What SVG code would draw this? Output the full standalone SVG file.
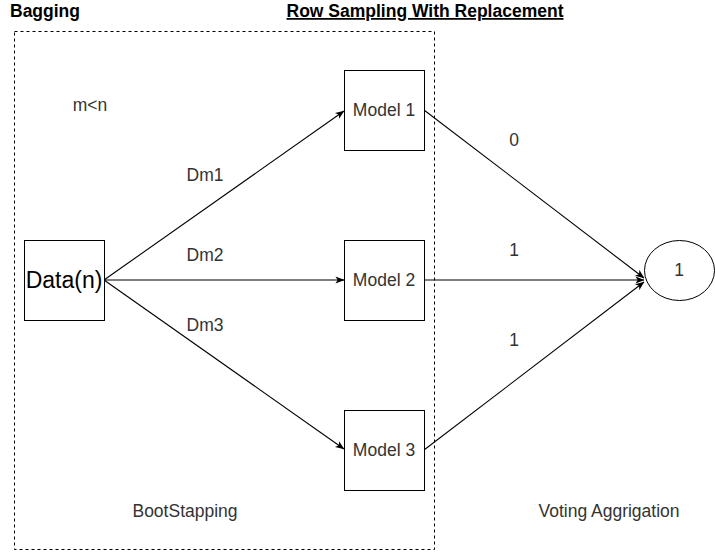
<svg xmlns="http://www.w3.org/2000/svg" width="715" height="552" viewBox="0 0 715 552">
<defs>
<marker id="arr" viewBox="0 0 10 10" refX="9.5" refY="5" markerWidth="9" markerHeight="9" markerUnits="userSpaceOnUse" orient="auto">
<path d="M0,1 L10,5 L0,9 L2.5,5 Z" fill="#000"/>
</marker>
<style>
.t{font-family:"Liberation Sans",Arial,sans-serif;font-size:17.5px;fill:#333;text-anchor:middle;dominant-baseline:central}
.b{font-family:"Liberation Sans",Arial,sans-serif;font-size:17.5px;font-weight:bold;fill:#000}
.box{fill:#fff;stroke:#000;stroke-width:1}
.e{stroke:#000;stroke-width:1.1;fill:none;marker-end:url(#arr)}
</style>
</defs>
<rect width="715" height="552" fill="#fff"/>
<text class="b" x="10" y="17">Bagging</text>
<text class="b" x="425" y="17" text-anchor="middle" text-decoration="underline">Row Sampling With Replacement</text>
<g id="bootstrap">
<rect x="14.5" y="31.5" width="420" height="518" fill="none" stroke="#000" stroke-dasharray="3,3"/>
</g>
<g id="connectors">
<line class="e" x1="104" y1="280" x2="344" y2="111"/>
<line class="e" x1="104" y1="280" x2="344" y2="280"/>
<line class="e" x1="104" y1="280" x2="344" y2="449"/>
<line class="e" x1="424" y1="110" x2="644" y2="278"/>
<line class="e" x1="424" y1="280" x2="644" y2="280"/>
<line class="e" x1="424" y1="450" x2="644" y2="282"/>
</g>
<g id="data"><rect class="box" x="24.5" y="240.5" width="80" height="80"/><text class="t" x="64" y="280" style="font-size:23px;fill:#000">Data(n)</text></g>
<g id="model1"><rect class="box" x="344.5" y="70.5" width="80" height="80"/><text class="t" x="384" y="110">Model 1</text></g>
<g id="model2"><rect class="box" x="344.5" y="240.5" width="80" height="80"/><text class="t" x="384" y="280">Model 2</text></g>
<g id="model3"><rect class="box" x="344.5" y="410.5" width="80" height="80"/><text class="t" x="384" y="450">Model 3</text></g>
<g id="result"><ellipse cx="679.5" cy="270.5" rx="35" ry="30" fill="#fff" stroke="#000"/><text class="t" x="679" y="270">1</text></g>
<text class="t" x="90" y="105">m&lt;n</text>
<text class="t" x="205" y="175">Dm1</text>
<text class="t" x="205" y="255">Dm2</text>
<text class="t" x="205" y="325">Dm3</text>
<text class="t" x="514" y="140">0</text>
<text class="t" x="514" y="250">1</text>
<text class="t" x="514" y="340">1</text>
<text class="t" x="185" y="511">BootStapping</text>
<text class="t" x="609" y="511">Voting Aggrigation</text>
</svg>
